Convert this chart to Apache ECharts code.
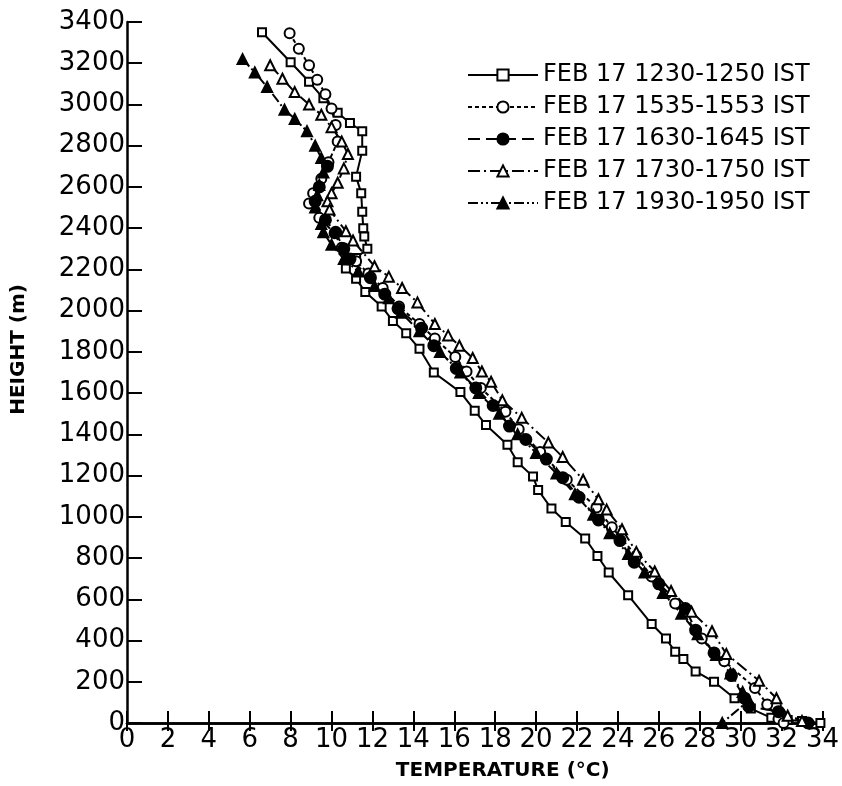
<!DOCTYPE html>
<html>
<head>
<meta charset="utf-8">
<title>Temperature profiles</title>
<script src="https://cdn.jsdelivr.net/npm/echarts@6/dist/echarts.min.js"></script>
<style>
    html, body { margin: 0; padding: 0; background: #fff; }
    #chart { width: 842px; height: 786px; }
</style>
</head>
<body>
<div id="chart"></div>
<script>
// series names (legend)
var seriesNames = [
    'FEB 17 1230-1250 IST',
    'FEB 17 1535-1553 IST',
    'FEB 17 1630-1645 IST',
    'FEB 17 1730-1750 IST',
    'FEB 17 1930-1950 IST'
];

// [temperature (°C), height (m)]
var run1230 = [
    [6.6, 3350], [8.0, 3205], [8.9, 3110], [9.6, 3030], [10.3, 2960], [10.9, 2910],
    [11.5, 2870], [11.5, 2775], [11.2, 2650], [11.45, 2570], [11.5, 2480], [11.55, 2400],
    [11.6, 2360], [11.75, 2300], [11.2, 2255], [10.7, 2205], [11.2, 2155], [11.65, 2090],
    [12.45, 2020], [13.0, 1950], [13.65, 1890], [14.3, 1815], [15.0, 1700], [16.3, 1605],
    [17.0, 1515], [17.55, 1445], [18.6, 1350], [19.1, 1265], [19.85, 1195], [20.1, 1130],
    [20.75, 1040], [21.45, 975], [22.4, 895], [23.0, 810], [23.55, 730], [24.5, 620],
    [25.65, 480], [26.35, 410], [26.8, 345], [27.2, 310], [27.8, 250], [28.7, 200],
    [29.7, 120], [30.5, 70], [31.5, 25], [32.3, 15], [33.0, 10], [33.9, 0]
];
var run1535 = [
    [7.95, 3345], [8.4, 3270], [8.9, 3190], [9.3, 3120], [9.7, 3050], [10.0, 2980],
    [10.2, 2900], [10.3, 2820], [9.85, 2720], [9.5, 2640], [9.1, 2570], [8.9, 2520],
    [9.4, 2450], [10.15, 2375], [10.5, 2305], [11.2, 2240], [11.8, 2180], [12.5, 2110],
    [13.3, 2020], [14.3, 1935], [15.05, 1865], [16.05, 1775], [16.6, 1705], [17.3, 1625],
    [18.5, 1510], [19.15, 1425], [20.2, 1315], [21.5, 1180], [22.95, 1045], [23.7, 950],
    [24.9, 810], [25.65, 710], [26.8, 580], [28.1, 410], [29.2, 300], [30.7, 170],
    [31.3, 90], [31.85, 20], [32.1, 0]
];
var run1630 = [
    [9.8, 2700], [9.4, 2600], [9.2, 2530], [9.7, 2440], [10.2, 2380], [10.6, 2300],
    [10.9, 2250], [11.9, 2160], [12.6, 2080], [13.25, 2010], [14.4, 1915], [15.0, 1830],
    [16.1, 1720], [17.05, 1625], [17.9, 1540], [18.7, 1440], [19.5, 1375], [20.5, 1280],
    [21.3, 1190], [22.1, 1095], [23.05, 985], [24.1, 885], [24.8, 780], [26.0, 675],
    [27.3, 555], [27.8, 450], [28.7, 340], [29.55, 230], [30.2, 120], [30.4, 80],
    [31.85, 55], [33.3, 0]
];
var run1730 = [
    [7.0, 3190], [7.6, 3125], [8.2, 3060], [8.9, 3000], [9.5, 2950], [10.0, 2890],
    [10.5, 2820], [10.8, 2760], [10.6, 2690], [10.3, 2620], [10.0, 2570], [9.8, 2530],
    [9.9, 2490], [10.7, 2385], [11.05, 2340], [12.1, 2215], [12.8, 2165], [13.45, 2110],
    [14.2, 2040], [15.05, 1935], [15.7, 1880], [16.25, 1830], [16.9, 1770], [17.35, 1705],
    [17.8, 1655], [18.35, 1565], [19.3, 1480], [20.6, 1360], [21.3, 1290], [22.3, 1180],
    [23.05, 1085], [23.45, 1035], [24.2, 940], [24.9, 830], [25.8, 735], [26.6, 640],
    [27.6, 540], [28.6, 445], [29.3, 335], [30.9, 205], [31.75, 120], [32.3, 35], [33.0, 10]
];
var run1930 = [
    [5.65, 3220], [6.25, 3155], [6.85, 3085], [7.7, 2975], [8.2, 2930], [8.8, 2870],
    [9.2, 2800], [9.5, 2740], [9.6, 2670], [9.4, 2610], [9.3, 2560], [9.2, 2500],
    [9.5, 2420], [9.6, 2380], [10.0, 2320], [10.6, 2250], [11.3, 2190], [12.1, 2120],
    [12.8, 2060], [13.4, 1990], [14.3, 1900], [15.3, 1800], [16.3, 1700], [17.2, 1600],
    [18.2, 1500], [19.1, 1400], [20.0, 1310], [21.0, 1210], [21.9, 1110], [22.8, 1010],
    [23.6, 920], [24.5, 820], [25.3, 730], [26.2, 630], [27.1, 530], [27.9, 430],
    [28.8, 330], [29.5, 240], [30.1, 150], [30.4, 110], [29.1, 0]
];

var labelFont = 'DejaVu Sans';

var myChart = echarts.init(document.getElementById('chart'));

function lineSeries(name, data, symbol, filled, size, dash) {
    return {
        name: name,
        type: 'line',
        xAxisIndex: 0,
        yAxisIndex: 0,
        data: data,
        symbol: symbol,
        symbolSize: size,
        showSymbol: true,
        itemStyle: {
            color: filled ? '#000' : '#fff',
            borderColor: '#000',
            borderWidth: 2
        },
        lineStyle: {
            color: '#000',
            width: 2,
            type: dash
        },
        emphasis: { disabled: true }
    };
}

// plain numbers, no thousands separator
function plain(v) {
    return String(v);
}

var option = {
    animation: false,
    backgroundColor: '#fff',
    grid: {
        left: 127,
        right: 17,
        top: 22,
        bottom: 61
    },
    legend: {
        orient: 'vertical',
        left: 462,
        top: 58,
        itemWidth: 70,
        itemHeight: 14,
        itemGap: 8,
        selectedMode: false,
        textStyle: {
            fontFamily: labelFont,
            fontSize: 24,
            color: '#000'
        },
        data: seriesNames
    },
    xAxis: [
        {
            type: 'value',
            position: 'bottom',
            min: 0,
            max: 34,
            interval: 2,
            name: 'TEMPERATURE (°C)',
            nameLocation: 'middle',
            nameGap: 38,
            nameTextStyle: {
                fontFamily: labelFont,
                fontSize: 20,
                fontWeight: 'bold',
                color: '#000',
                padding: [0, 0, 0, 56]
            },
            axisLine: { show: true, lineStyle: { color: '#000', width: 2.5 } },
            axisTick: { show: true, inside: true, length: 12, lineStyle: { color: '#000', width: 2 } },
            axisLabel: {
                margin: 4,
                fontFamily: labelFont,
                fontSize: 26,
                color: '#000',
                formatter: plain
            },
            splitLine: { show: false }
        },
        {
            type: 'value',
            position: 'top',
            min: 0,
            max: 34,
            interval: 2,
            axisLine: { show: true, lineStyle: { color: '#000', width: 2.5 } },
            axisTick: { show: true, inside: true, length: 8, lineStyle: { color: '#000', width: 2 } },
            axisLabel: { show: false },
            splitLine: { show: false }
        }
    ],
    yAxis: [
        {
            type: 'value',
            position: 'left',
            min: 0,
            max: 3400,
            interval: 200,
            name: 'HEIGHT (m)',
            nameLocation: 'middle',
            nameGap: 98,
            nameRotate: 90,
            nameTextStyle: {
                fontFamily: labelFont,
                fontSize: 20,
                fontWeight: 'bold',
                color: '#000',
                padding: [0, 0, 0, 46]
            },
            axisLine: { show: true, lineStyle: { color: '#000', width: 2.5 } },
            axisTick: { show: true, inside: true, length: 15, lineStyle: { color: '#000', width: 2 } },
            axisLabel: {
                margin: 2,
                fontFamily: labelFont,
                fontSize: 26,
                color: '#000',
                formatter: plain
            },
            splitLine: { show: false }
        },
        {
            type: 'value',
            position: 'right',
            offset: 6,
            min: 0,
            max: 3400,
            interval: 200,
            axisLine: { show: false },
            axisTick: { show: true, inside: false, length: 10, lineStyle: { color: '#000', width: 2 } },
            axisLabel: { show: false },
            splitLine: { show: false }
        }
    ],
    series: [
        lineSeries(seriesNames[0], run1230, 'rect', false, 8, 'solid'),
        lineSeries(seriesNames[1], run1535, 'circle', false, 10, [4, 3]),
        lineSeries(seriesNames[2], run1630, 'circle', true, 11, [12, 6]),
        lineSeries(seriesNames[3], run1730, 'triangle', false, 10, [12, 4, 2, 4]),
        lineSeries(seriesNames[4], run1930, 'triangle', true, 10, [10, 3, 2, 3, 2, 3])
    ]
};

myChart.setOption(option);
window.addEventListener('resize', function () {
    myChart.resize();
});
</script>
</body>
</html>
